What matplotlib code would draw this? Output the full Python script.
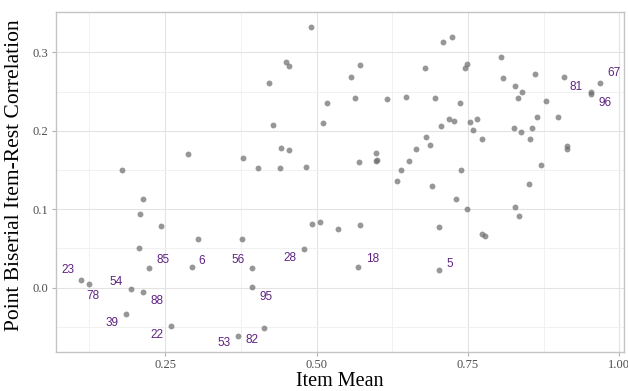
import matplotlib
matplotlib.use("Agg")
import matplotlib.pyplot as plt
import numpy as np

# ---- item statistics ----
# items that were not flagged
other_mean = [0.179, 0.287, 0.379, 0.491, 0.450, 0.454, 0.422, 0.428, 0.441, 0.455,
              0.404, 0.440, 0.483, 0.510, 0.517, 0.557, 0.572, 0.564, 0.616, 0.647,
              0.696, 0.679, 0.570, 0.598, 0.598, 0.600, 0.681, 0.687, 0.664, 0.652,
              0.639, 0.633, 0.709, 0.724, 0.805, 0.748, 0.745, 0.808, 0.861, 0.908,
              0.879, 0.828, 0.839, 0.833, 0.737, 0.705, 0.719, 0.727, 0.754, 0.765,
              0.758, 0.774, 0.826, 0.837, 0.856, 0.852, 0.864, 0.898, 0.914, 0.913,
              0.870, 0.738, 0.851, 0.730, 0.749, 0.827, 0.835, 0.702, 0.773, 0.778,
              0.691, 0.493, 0.505, 0.536, 0.572, 0.214, 0.209, 0.243, 0.305, 0.377,
              0.207]
other_cor = [0.150, 0.170, 0.165, 0.332, 0.288, 0.283, 0.261, 0.207, 0.178, 0.176,
             0.153, 0.153, 0.154, 0.210, 0.236, 0.268, 0.284, 0.242, 0.241, 0.243,
             0.242, 0.280, 0.160, 0.172, 0.162, 0.163, 0.192, 0.182, 0.177, 0.161,
             0.150, 0.136, 0.313, 0.320, 0.294, 0.285, 0.280, 0.267, 0.273, 0.269,
             0.238, 0.257, 0.250, 0.242, 0.236, 0.206, 0.215, 0.212, 0.211, 0.215,
             0.201, 0.190, 0.203, 0.199, 0.203, 0.189, 0.218, 0.217, 0.181, 0.177,
             0.157, 0.150, 0.132, 0.113, 0.100, 0.103, 0.092, 0.077, 0.069, 0.066,
             0.129, 0.081, 0.084, 0.075, 0.080, 0.113, 0.094, 0.078, 0.062, 0.062,
             0.050]

# flagged items (low correlation or very easy)
flag_ids = ["23", "78", "54", "88", "39", "22", "53", "82", "95",
            "56", "85", "6", "28", "18", "5", "67", "81", "96"]
flag_mean = [0.111, 0.125, 0.193, 0.214, 0.186, 0.259, 0.371, 0.413, 0.393,
             0.393, 0.223, 0.294, 0.480, 0.569, 0.702, 0.968, 0.954, 0.953]
flag_cor = [0.010, 0.005, -0.002, -0.006, -0.033, -0.049, -0.062, -0.051, 0.001,
            0.025, 0.025, 0.026, 0.049, 0.026, 0.023, 0.261, 0.250, 0.247]

# label nudges (pixels) so the numbers sit next to their points
nudges = [(-13, 10), (3, -12), (-14, 7), (14, -9), (-14, -9), (-14, -9), (-14, -7),
          (-12, -12), (14, -10), (-14, 8), (14, 8), (10, 6), (-14, -9), (14, 8),
          (11, 6), (14, 10), (-15, 5), (14, -9)]

x_ticks = [0.25, 0.50, 0.75, 1.00]
y_ticks = [0.0, 0.1, 0.2, 0.3]

# ---- plot ----
fig = plt.figure(figsize=(6.28, 3.91), dpi=100)
ax = fig.add_axes([0.0884, 0.1005, 0.9057, 0.868])

all_mean = np.array(other_mean + flag_mean)
all_cor = np.array(other_cor + flag_cor)
ax.scatter(all_mean, all_cor, s=18, color="#6b6b6b", alpha=0.7,
           linewidths=0, zorder=3)

for lab, mx, cy, (dx, dy) in zip(flag_ids, flag_mean, flag_cor, nudges):
    ax.annotate(lab, (mx, cy), xytext=(dx, dy), textcoords="offset pixels",
                ha="center", va="center", fontsize=8.5, color="#5e2380",
                family="Liberation Sans", zorder=4)

ax.set_xlim(0.069, 1.0083)
ax.set_ylim(-0.0816, 0.351)
ax.set_xticks(x_ticks)
ax.set_xticklabels([f"{t:.2f}" for t in x_ticks])
ax.set_yticks(y_ticks)
ax.set_yticklabels([f"{t:.1f}" for t in y_ticks])
ax.set_xticks(np.arange(0.125, 1.0, 0.25), minor=True)
ax.set_yticks(np.arange(-0.05, 0.35, 0.1), minor=True)

ax.grid(which="major", color="#e3e3e3", linewidth=0.8)
ax.grid(which="minor", color="#efefef", linewidth=0.6)
ax.set_axisbelow(True)

for sp in ax.spines.values():
    sp.set_color("#c4c4c4")
    sp.set_linewidth(1.0)

ax.tick_params(which="major", length=3, width=0.8, color="#b3b3b3",
               labelcolor="#4d4d4d", labelsize=9, pad=2)
ax.tick_params(which="minor", length=0)
for t in ax.get_xticklabels() + ax.get_yticklabels():
    t.set_family("Liberation Serif")

ax.set_xlabel("Item Mean", family="Liberation Serif", fontsize=14.5)
ax.set_ylabel("Point Biserial Item-Rest Correlation", family="Liberation Serif",
              fontsize=15.5)
ax.xaxis.set_label_coords(0.5, -0.06)
ax.yaxis.set_label_coords(-0.056, 0.52)

fig.savefig("out.png", dpi=100)
